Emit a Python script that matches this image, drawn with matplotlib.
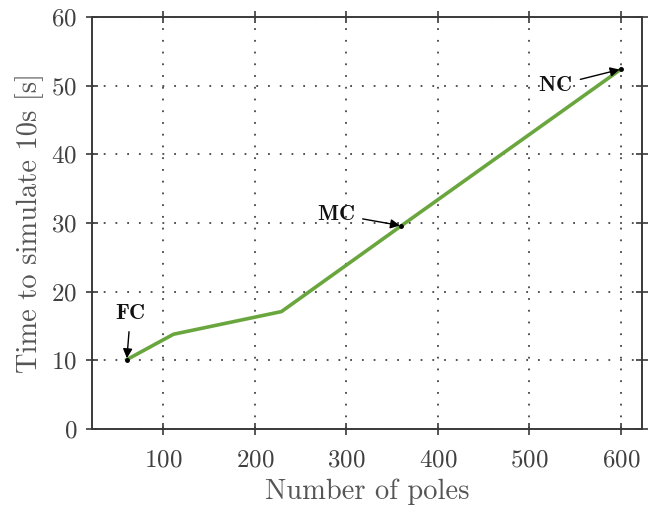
import numpy as np
import matplotlib
matplotlib.use('Agg')
import matplotlib.pyplot as plt

plt.rcParams['font.family'] = 'cmr10'
plt.rcParams['mathtext.fontset'] = 'cm'
plt.rcParams['axes.unicode_minus'] = False
plt.rcParams['axes.formatter.use_mathtext'] = True

# simulation time vs model order
poles = [60, 111, 229, 360, 600]
sim_time = [10.1, 13.8, 17.1, 29.6, 52.4]

# labelled cases: name, poles, time, text position
cases = ['FC', 'MC', 'NC']
case_poles = [60, 360, 600]
case_time = [10.1, 29.6, 52.4]
case_text = [(64, 16.8), (288, 31.3), (528, 50.0)]

xticks = [100, 200, 300, 400, 500, 600]
yticks = [0, 10, 20, 30, 40, 50, 60]

fig = plt.figure(figsize=(6.54, 5.05), dpi=100)
ax = fig.add_axes([0.1407, 0.1505, 0.841, 0.8158])

ax.plot(poles, sim_time, color='#6aa63e', lw=2.6, zorder=3)
ax.plot(case_poles, case_time, 'o', color='k', ms=2.5, zorder=4)

for name, px, py, (tx, ty) in zip(cases, case_poles, case_time, case_text):
    ax.annotate(r'$\mathbf{%s}$' % name, xy=(px, py), xytext=(tx, ty),
                fontsize=16, color='#111111', ha='center', va='center',
                arrowprops=dict(arrowstyle='-|>', color='k', lw=1.0,
                                mutation_scale=14, shrinkA=4, shrinkB=1),
                zorder=5)

ax.set_xlim(22, 623)
ax.set_ylim(0, 60)
ax.set_xticks(xticks)
ax.set_yticks(yticks)

ax.grid(True, color='#444444', linestyle=(0, (1, 5.5)), lw=1.3)
for s in ax.spines.values():
    s.set_color('#3a3a3a')
    s.set_linewidth(1.4)
ax.tick_params(direction='inout', length=9, width=1.2, color='#3a3a3a',
               top=True, right=True, labelsize=18, labelcolor='#404040')
ax.tick_params(axis='x', pad=10)
ax.tick_params(axis='y', pad=6)

ax.set_xlabel('Number of poles', fontsize=20.5, color='#555555', labelpad=5)
ax.set_ylabel('Time to simulate 10s [s]', fontsize=20.5, color='#555555', labelpad=5)

fig.savefig('out.png', dpi=100)
